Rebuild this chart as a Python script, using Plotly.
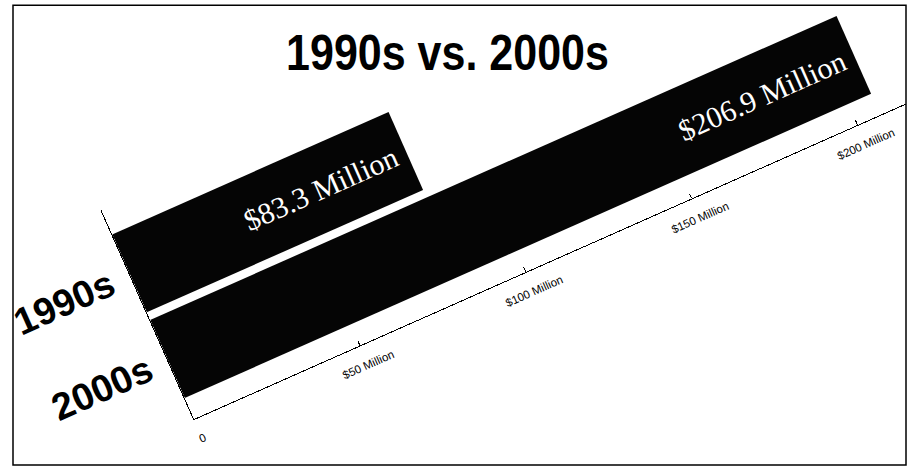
import plotly.graph_objects as go

# ---- data ----
decades = ["1990s", "2000s"]
spending_millions = [83.3, 206.9]
bar_labels = ["$83.3 Million", "$206.9 Million"]
tick_values = [0, 50, 100, 150, 200]
tick_labels = ["0", "$50 Million", "$100 Million", "$150 Million", "$200 Million"]
chart_title = "1990s vs. 2000s"

# ---- layout geometry (pixels) ----
W, H = 912, 466
PLOT_LEFT, PLOT_BOTTOM = 130, 420      # unrotated plot origin
PLOT_W, PLOT_H = 778, 228.6
ORIGIN_X, ORIGIN_Y = 194, 419          # where the origin sits after rotation
ANGLE = -23.9
TITLE_CX = 447.5
TITLE_SQUEEZE = 0.86

fig = go.Figure()
fig.add_trace(go.Bar(
    y=decades,
    x=spending_millions,
    orientation="h",
    width=0.91,
    marker=dict(color="#050505", line=dict(width=0)),
    text=[t + "\u00a0" for t in bar_labels],   # a little extra end padding
    textposition="inside",
    insidetextanchor="end",
    textangle=0,
    constraintext="none",
    textfont=dict(family="Liberation Serif, Times New Roman, serif", size=30, color="white"),
    hoverinfo="skip",
))

def px_to_paper_x(px):
    return (px - PLOT_LEFT) / PLOT_W

def px_to_paper_y(py):
    return (PLOT_BOTTOM - py) / PLOT_H

fig.update_layout(
    width=W, height=H,
    margin=dict(l=PLOT_LEFT, r=W - PLOT_LEFT - PLOT_W, t=PLOT_BOTTOM - PLOT_H, b=H - PLOT_BOTTOM, pad=0),
    paper_bgcolor="white",
    plot_bgcolor="rgba(0,0,0,0)",
    showlegend=False,
    title=dict(
        text=chart_title,
        x=TITLE_CX / W, xref="container", xanchor="center",
        y=1 - 53 / H, yref="container", yanchor="middle",
        font=dict(family="Liberation Sans, Arial, sans-serif",
                  size=50, color="black", weight="bold"),
    ),
    xaxis=dict(
        range=[0, 214.4],
        tickvals=tick_values, ticktext=tick_labels,
        ticks="inside", ticklen=5, tickwidth=1, tickcolor="black",
        ticklabelstandoff=10,
        showline=True, linecolor="black", linewidth=1.2,
        showgrid=False, zeroline=False, automargin=False,
        tickfont=dict(family="Liberation Sans, Arial, sans-serif", size=11.5, color="black"),
    ),
    yaxis=dict(
        type="category", categoryorder="array", categoryarray=["2000s", "1990s"],
        range=[-0.70, 1.744],
        ticks="", ticklabelstandoff=10,
        showline=True, linecolor="black", linewidth=1.2,
        showgrid=False, zeroline=False, automargin=False,
        tickfont=dict(family="Liberation Sans, Arial, sans-serif", size=38, color="black", weight="bold"),
    ),
    shapes=[dict(
        type="rect", xref="paper", yref="paper",
        x0=px_to_paper_x(13), x1=px_to_paper_x(906),
        y0=px_to_paper_y(465), y1=px_to_paper_y(6),
        line=dict(color="black", width=1.5), fillcolor="rgba(0,0,0,0)",
    )],
)

post = f"""
var gd = document.getElementById('{{plot_id}}');
document.body.style.margin = '0';
document.body.style.overflow = 'hidden';
var cl = gd.querySelector('.cartesianlayer');
if (cl) {{
  cl.setAttribute('transform', 'translate({ORIGIN_X},{ORIGIN_Y}) rotate({ANGLE}) translate({-PLOT_LEFT},{-PLOT_BOTTOM})');
}}
var tg = gd.querySelector('.g-gtitle');
if (tg) {{
  tg.setAttribute('transform', 'translate({TITLE_CX},0) scale({TITLE_SQUEEZE},1) translate({-TITLE_CX},0)');
}}
"""

fig.write_html("out.html", post_script=post, config={"displayModeBar": False})
